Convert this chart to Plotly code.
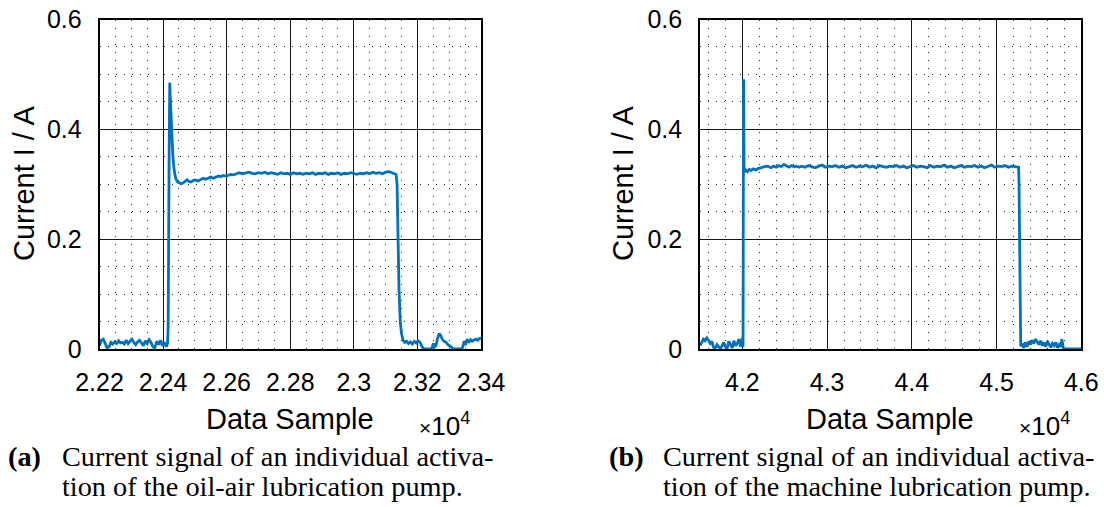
import plotly.graph_objects as go

W, H = 1104, 507

# ---------------- data ----------------
oil_air_sample = [
    22200, 22206, 22212, 22218, 22224, 22230, 22236, 22242, 22248, 22254, 22260, 22266,
    22272, 22278, 22284, 22290, 22296, 22302, 22308, 22314, 22320, 22326, 22332, 22338,
    22344, 22350, 22356, 22362, 22368, 22374, 22380, 22386, 22392, 22398, 22404, 22410,
    22414, 22416, 22419, 22421, 22424, 22427, 22431, 22435, 22440, 22446, 22452, 22458,
    22464, 22470, 22476, 22482, 22488, 22495, 22502, 22510, 22518, 22526, 22534, 22542,
    22550, 22558, 22566, 22574, 22582, 22590, 22598, 22606, 22614, 22622, 22630, 22640,
    22650, 22660, 22670, 22680, 22690, 22700, 22710, 22720, 22730, 22740, 22750, 22760,
    22770, 22780, 22790, 22800, 22810, 22820, 22830, 22840, 22850, 22860, 22870, 22880,
    22890, 22900, 22910, 22920, 22930, 22940, 22950, 22960, 22970, 22980, 22990, 23000,
    23010, 23020, 23030, 23040, 23050, 23060, 23070, 23080, 23090, 23100, 23110, 23120,
    23128, 23133, 23136, 23139, 23142, 23146, 23150, 23155, 23160, 23166, 23172, 23178,
    23184, 23190, 23196, 23202, 23208, 23213, 23218, 23225, 23232, 23240, 23246, 23250,
    23254, 23258, 23263, 23268, 23273, 23278, 23284, 23290, 23296, 23302, 23308, 23314,
    23322, 23330, 23338, 23343, 23347, 23352, 23357, 23362, 23367, 23372, 23378, 23384,
    23390, 23395, 23400,
]
oil_air_current = [
    0.006, 0.016, 0.018, 0.008, 0.002, 0.004, 0.012, 0.009, 0.013, 0.010, 0.015, 0.011,
    0.012, 0.009, 0.016, 0.010, 0.014, 0.018, 0.012, 0.008, 0.013, 0.016, 0.011, 0.006,
    0.015, 0.010, 0.017, 0.012, 0.004, 0.002, 0.014, 0.008, 0.016, 0.006, 0.012, 0.004,
    0.010, 0.040, 0.350, 0.485, 0.440, 0.390, 0.350, 0.325, 0.310, 0.304, 0.302, 0.301,
    0.303, 0.305, 0.308, 0.305, 0.304, 0.307, 0.308, 0.306, 0.309, 0.311, 0.309, 0.311,
    0.313, 0.311, 0.313, 0.315, 0.314, 0.316, 0.315, 0.317, 0.318, 0.317, 0.319, 0.321,
    0.319, 0.320, 0.322, 0.320, 0.319, 0.321, 0.320, 0.322, 0.319, 0.321, 0.320, 0.318,
    0.321, 0.319, 0.320, 0.318, 0.321, 0.319, 0.320, 0.318, 0.320, 0.319, 0.321, 0.318,
    0.320, 0.319, 0.321, 0.318, 0.320, 0.319, 0.321, 0.318, 0.320, 0.319, 0.321, 0.320,
    0.318, 0.320, 0.319, 0.321, 0.319, 0.322, 0.320, 0.321, 0.319, 0.322, 0.323, 0.321,
    0.320, 0.318, 0.300, 0.200, 0.110, 0.050, 0.028, 0.016, 0.012, 0.014, 0.010, 0.013,
    0.009, 0.014, 0.011, 0.015, 0.012, 0.006, 0.001, 0.000, 0.000, 0.000, 0.002, 0.010,
    0.004, 0.006, 0.018, 0.028, 0.025, 0.018, 0.014, 0.012, 0.008, 0.006, 0.003, 0.000,
    0.000, 0.000, 0.000, 0.004, 0.014, 0.010, 0.016, 0.013, 0.017, 0.014, 0.016, 0.018,
    0.016, 0.019, 0.020,
]

machine_sample = [
    41500, 41520, 41540, 41560, 41580, 41600, 41620, 41640, 41660, 41680, 41700, 41720,
    41740, 41760, 41780, 41800, 41820, 41840, 41860, 41880, 41900, 41920, 41940, 41960,
    41980, 42000, 42008, 42012, 42014, 42017, 42020, 42025, 42040, 42060, 42080, 42100,
    42130, 42160, 42190, 42220, 42250, 42280, 42310, 42340, 42370, 42400, 42430, 42460,
    42490, 42520, 42550, 42580, 42610, 42640, 42670,
    42700, 42740, 42780, 42820, 42860, 42900, 42940, 42980, 43020, 43060,
    43100, 43140, 43180, 43220, 43260, 43300, 43340, 43380, 43420, 43460,
    43500, 43540, 43580, 43620, 43660, 43700, 43740, 43780, 43820, 43860,
    43900, 43940, 43980, 44020, 44060, 44100, 44140, 44180, 44220, 44260,
    44300, 44340, 44380, 44420, 44460, 44500, 44540, 44580, 44620, 44660,
    44700, 44740, 44780, 44820, 44860, 44900, 44940, 44980, 45020, 45060,
    45100, 45140, 45180, 45220, 45260,
    45265, 45272, 45278, 45285, 45300, 45320, 45340, 45360, 45380, 45400, 45420, 45440,
    45460, 45480, 45500, 45520, 45540, 45560, 45580, 45600, 45620, 45640, 45660, 45680,
    45700, 45720, 45740, 45760, 45770, 45780, 45790, 46000,
]
machine_current = [
    0.006, 0.012, 0.018, 0.015, 0.020, 0.016, 0.010, 0.014, 0.003, 0.001, 0.008, 0.004,
    0.001, 0.006, 0.012, 0.004, 0.001, 0.014, 0.008, 0.002, 0.015, 0.006, 0.010, 0.018,
    0.004, 0.020, 0.003, 0.300, 0.491, 0.400, 0.330, 0.322, 0.326, 0.323, 0.327, 0.325,
    0.328, 0.326, 0.329, 0.330, 0.331, 0.333, 0.332, 0.330, 0.333, 0.331, 0.334, 0.332,
    0.336, 0.333, 0.331, 0.334, 0.332, 0.333, 0.331,
    0.333, 0.331, 0.334, 0.332, 0.330, 0.333, 0.335, 0.331, 0.333, 0.332,
    0.334, 0.331, 0.333, 0.330, 0.332, 0.334, 0.331, 0.333, 0.332, 0.335,
    0.331, 0.333, 0.330, 0.334, 0.332, 0.331, 0.333, 0.332, 0.334, 0.331,
    0.333, 0.330, 0.332, 0.334, 0.331, 0.333, 0.332, 0.330, 0.334, 0.331,
    0.333, 0.332, 0.335, 0.331, 0.333, 0.330, 0.332, 0.334, 0.331, 0.333,
    0.332, 0.334, 0.331, 0.333, 0.330, 0.332, 0.335, 0.331, 0.333, 0.332,
    0.334, 0.331, 0.333, 0.332, 0.331,
    0.300, 0.120, 0.020, 0.005, 0.010, 0.002, 0.012, 0.004, 0.014, 0.008, 0.016, 0.010,
    0.018, 0.012, 0.008, 0.015, 0.006, 0.012, 0.004, 0.014, 0.008, 0.003, 0.010, 0.006,
    0.012, 0.002, 0.008, 0.004, 0.018, 0.002, 0.000, 0.000,
]

left_ticks = [22200, 22400, 22600, 22800, 23000, 23200, 23400]
left_ticktext = ["2.22", "2.24", "2.26", "2.28", "2.3", "2.32", "2.34"]
right_ticks = [42000, 43000, 44000, 45000, 46000]
right_ticktext = ["4.2", "4.3", "4.4", "4.5", "4.6"]
y_ticks = [0, 0.2, 0.4, 0.6]
y_ticktext = ["0", "0.2", "0.4", "0.6"]

x_title = "Data Sample"
y_title = "Current I / A"
exponent_label = "<span style='font-size:21px'>×</span>10<sup>4</sup>"
caption_a_tag, caption_b_tag = "(a)", "(b)"
caption_line1 = "Current signal of an individual activa-"
caption_a_line2 = "tion of the oil-air lubrication pump."
caption_b_line2 = "tion of the machine lubrication pump."

# ---------------- figure ----------------
BLUE = "#0072BD"
SANS = "Liberation Sans, Arial, sans-serif"
SERIF = "Liberation Serif, Times New Roman, serif"

def px_x(p):
    return p / W

def px_y(p):
    return 1 - p / H

fig = go.Figure()
fig.add_trace(go.Scatter(x=oil_air_sample, y=oil_air_current, mode="lines",
                         line=dict(color=BLUE, width=2.8), xaxis="x", yaxis="y",
                         showlegend=False))
fig.add_trace(go.Scatter(x=machine_sample, y=machine_current, mode="lines",
                         line=dict(color=BLUE, width=2.8), xaxis="x2", yaxis="y2",
                         showlegend=False))

ydom = [px_y(349), px_y(19.5)]

def xaxis_cfg(dom, rng, tv, tt, minor_dt, tick0, anchor):
    return dict(domain=dom, range=rng, anchor=anchor, tickmode="array", tickvals=tv, ticktext=tt,
                showgrid=True, gridcolor="rgba(0,0,0,0.9)", gridwidth=1.2,
                minor=dict(tickmode="linear", tick0=tick0, dtick=minor_dt, showgrid=True,
                           gridcolor="rgba(0,0,0,0.85)", gridwidth=1, griddash="1px,7px", ticks=""),
                showline=True, mirror=True, linecolor="black", linewidth=1.6,
                ticks="", zeroline=False, ticklabelstandoff=10, automargin=False,
                tickfont=dict(family=SANS, size=25, color="black"), fixedrange=True)

def yaxis_cfg(anchor):
    return dict(domain=ydom, range=[0, 0.6], anchor=anchor, tickmode="array",
                tickvals=y_ticks, ticktext=y_ticktext,
                showgrid=True, gridcolor="rgba(0,0,0,0.9)", gridwidth=1.2,
                minor=dict(tickmode="linear", tick0=0, dtick=0.05, showgrid=True,
                           gridcolor="rgba(0,0,0,0.85)", gridwidth=1, griddash="1px,7px", ticks=""),
                showline=True, mirror=True, linecolor="black", linewidth=1.6,
                ticks="", zeroline=False, ticklabelstandoff=11, automargin=False,
                tickfont=dict(family=SANS, size=25, color="black"), fixedrange=True)

fig.update_layout(
    width=W, height=H, margin=dict(l=0, r=0, t=0, b=0, autoexpand=False),
    paper_bgcolor="white", plot_bgcolor="white",
    xaxis=xaxis_cfg([px_x(99.5), px_x(481)], [22200, 23400], left_ticks, left_ticktext, 50, 22200, "y"),
    yaxis=yaxis_cfg("x"),
    xaxis2=xaxis_cfg([px_x(700), px_x(1081.3)], [41500, 46000], right_ticks, right_ticktext, 200, 42000, "y2"),
    yaxis2=yaxis_cfg("x2"),
)

ann = []
def text(x, y, s, size, family=SANS, xanchor="center", yanchor="middle", angle=0):
    ann.append(dict(x=px_x(x), y=px_y(y), xref="paper", yref="paper", text=s, showarrow=False,
                    xanchor=xanchor, yanchor=yanchor, textangle=angle,
                    font=dict(family=family, size=size, color="black")))

# axis titles
text(24, 184, y_title, 29, angle=-90)
text(623, 184, y_title, 29, angle=-90)
text(290, 419, x_title, 29)
text(890, 419, x_title, 29)
text(417, 424, exponent_label, 26, xanchor="left")
text(1017, 424, exponent_label, 26, xanchor="left")

# captions
CAP = 28.3
text(6, 456, "<b>" + caption_a_tag + "</b>", CAP, family=SERIF, xanchor="left")
text(60, 456, caption_line1, CAP, family=SERIF, xanchor="left")
text(60, 486, caption_a_line2, CAP, family=SERIF, xanchor="left")
text(607, 456, "<b>" + caption_b_tag + "</b>", CAP, family=SERIF, xanchor="left")
text(661, 456, caption_line1, CAP, family=SERIF, xanchor="left")
text(661, 486, caption_b_line2, CAP, family=SERIF, xanchor="left")

fig.update_layout(annotations=ann)
fig.write_html("out.html")
